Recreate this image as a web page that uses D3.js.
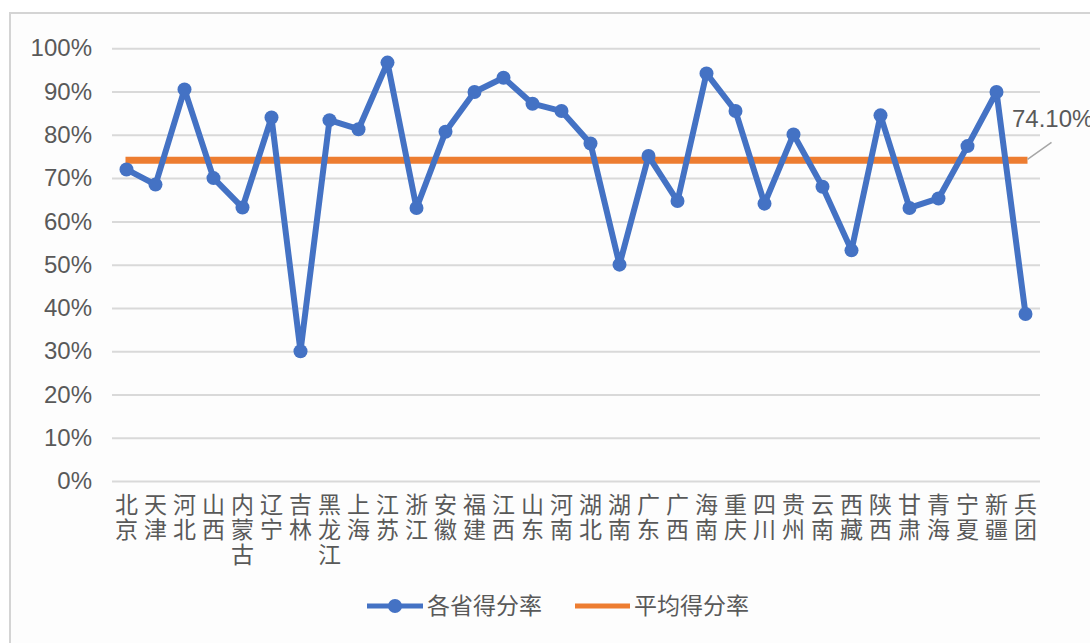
<!DOCTYPE html>
<html><head><meta charset="utf-8">
<script src="https://cdn.jsdelivr.net/npm/d3@7"></script>
<style>
html,body{margin:0;padding:0;background:#fff;}
svg{display:block;font-family:"Liberation Sans","Noto Sans CJK SC",sans-serif;}
</style></head>
<body>
<svg id="chart" width="1090" height="643"></svg>
<script>
const categories = ["北京","天津","河北","山西","内蒙古","辽宁","吉林","黑龙江","上海","江苏","浙江","安徽","福建","江西","山东","河南","湖北","湖南","广东","广西","海南","重庆","四川","贵州","云南","西藏","陕西","甘肃","青海","宁夏","新疆","兵团"];
const scores = [72.0,68.5,90.5,70.0,63.2,84.0,30.0,83.4,81.3,96.7,63.1,80.7,89.9,93.2,87.2,85.5,78.0,50.0,75.1,64.7,94.2,85.5,64.1,80.1,68.0,53.3,84.5,63.1,65.3,77.4,89.9,38.6];
const averageScore = 74.1;
const yTicks = [0,10,20,30,40,50,60,70,80,90,100];
const seriesNames = ["各省得分率","平均得分率"];
const blue = "#4472C4", orange = "#ED7D31", textColor = "#595959", gridColor = "#d9d9d9";

const svg = d3.select("#chart");
// frame
svg.append("rect").attr("x",10).attr("y",13).attr("width",1100).attr("height",660)
  .attr("fill","#fdfdfd").attr("stroke","#d4d4d4").attr("stroke-width",2);

const x = d3.scaleBand().domain(categories).range([112,1040]);
const y = d3.scaleLinear().domain([0,100]).range([481,48.3]);
const cx = d => x(d) + x.bandwidth()/2;

// gridlines + y labels
const yAxis = d3.axisLeft(y).tickValues(yTicks).tickFormat(d => d + "%").tickSize(-928).tickPadding(20);
const gy = svg.append("g").attr("transform","translate(112,0)").call(yAxis);
gy.select(".domain").remove();
gy.selectAll(".tick line").attr("stroke",gridColor).attr("stroke-width",2);
gy.selectAll(".tick text").attr("fill",textColor).attr("font-size",24).attr("font-family","Liberation Sans, sans-serif");

// x labels (vertical stacked chars, one text per char)
const xl = svg.append("g").attr("font-family","Noto Sans CJK SC, sans-serif").attr("font-size",23).attr("fill",textColor);
categories.forEach(c => {
  Array.from(c).forEach((ch,i) => {
    xl.append("text").attr("x",cx(c)).attr("y",513 + i*25).attr("text-anchor","middle").text(ch);
  });
});

// average line
svg.append("line").attr("x1",cx(categories[0])-1).attr("x2",cx(categories[categories.length-1])+2)
  .attr("y1",y(averageScore)).attr("y2",y(averageScore))
  .attr("stroke",orange).attr("stroke-width",7);

// series line
const line = d3.line().x((d,i)=>cx(categories[i])).y(d=>y(d));
svg.append("path").datum(scores).attr("d",line).attr("fill","none")
  .attr("stroke",blue).attr("stroke-width",6).attr("stroke-linejoin","round");
svg.append("g").selectAll("circle").data(scores).join("circle")
  .attr("cx",(d,i)=>cx(categories[i])).attr("cy",d=>y(d)).attr("r",7).attr("fill",blue);

// data label for average
const lx = cx(categories[categories.length-1])+2, ly = y(averageScore);
svg.append("line").attr("x1",lx).attr("y1",ly-1).attr("x2",lx+24).attr("y2",ly-18)
  .attr("stroke","#a6a6a6").attr("stroke-width",1.5);
svg.append("text").attr("x",1012).attr("y",127).attr("fill",textColor).attr("font-size",24)
  .attr("font-family","Liberation Sans, sans-serif").text(d3.format(".2f")(averageScore)+"%");

// legend
const lg = svg.append("g").attr("font-family","Noto Sans CJK SC, sans-serif");
lg.append("line").attr("x1",367).attr("x2",423).attr("y1",606).attr("y2",606).attr("stroke",blue).attr("stroke-width",5);
lg.append("circle").attr("cx",395).attr("cy",606).attr("r",7).attr("fill",blue);
lg.append("text").attr("x",427).attr("y",614).attr("fill",textColor).attr("font-size",23).text(seriesNames[0]);
lg.append("line").attr("x1",575).attr("x2",630).attr("y1",606).attr("y2",606).attr("stroke",orange).attr("stroke-width",5);
lg.append("text").attr("x",634).attr("y",614).attr("fill",textColor).attr("font-size",23).text(seriesNames[1]);
</script>
</body></html>
